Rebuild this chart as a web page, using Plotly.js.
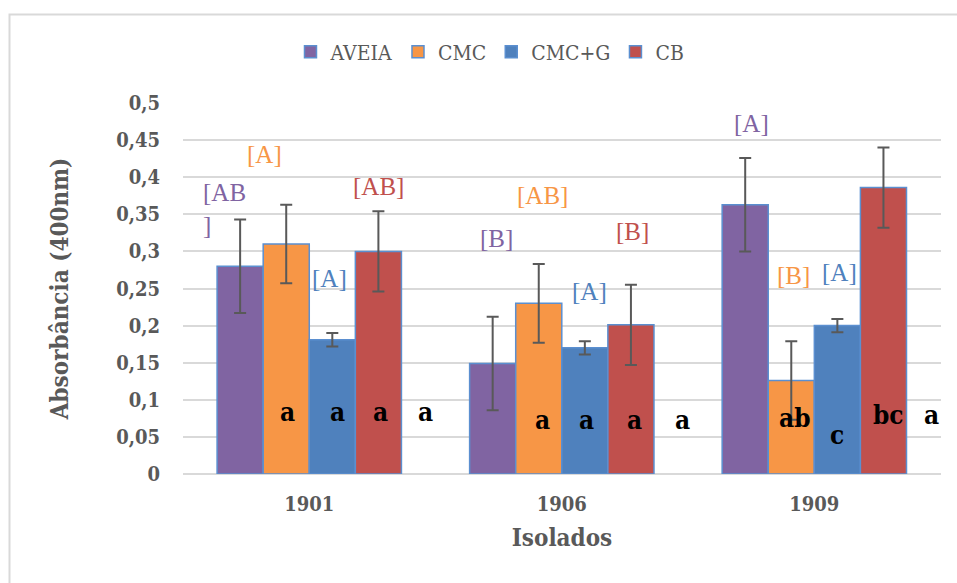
<!DOCTYPE html>
<html>
<head>
<meta charset="utf-8">
<script src="https://cdn.plot.ly/plotly-3.0.1.min.js"></script>
<style>
html,body{margin:0;padding:0;background:#fff;}
#chart{width:957px;height:583px;}
</style>
</head>
<body>
<div id="chart"></div>
<script>
// ---- data ----
const categories = ['1901', '1906', '1909'];
const seriesNames = ['AVEIA', 'CMC', 'CMC+G', 'CB'];
const aveia = [0.280, 0.149, 0.363];
const cmc = [0.310, 0.230, 0.126];
const cmcG = [0.181, 0.170, 0.200];
const cb = [0.300, 0.201, 0.386];
const errAveia = [0.063, 0.063, 0.063];
const errCmc = [0.053, 0.053, 0.053];
const errCmcG = [0.009, 0.009, 0.009];
const errCb = [0.054, 0.054, 0.054];
// group letters (brackets) per series, per category
const lblAveia = ['[AB<br>]', '[B]', '[A]'];
const lblCmc = ['[A]', '[AB]', '[B]'];
const lblCmcG = ['[A]', '[A]', '[A]'];
const lblCb = ['[AB]', '[B]', '[A]'];
// letters inside bars, per category: CMC, CMC+G, CB, extra
const innerLetters = [
  ['a', 'a', 'a', 'a'],
  ['a', 'a', 'a', 'a'],
  ['ab', 'c', 'bc', 'a']
];
const tickVals = [0, 0.05, 0.1, 0.15, 0.2, 0.25, 0.3, 0.35, 0.4, 0.45, 0.5];
const tickText = ['0', '0,05', '0,1', '0,15', '0,2', '0,25', '0,3', '0,35', '0,4', '0,45', '0,5'];

// ---- styles ----
const colors = ['#8064A2', '#F79646', '#4F81BD', '#C0504D'];
const FONT = 'DejaVu Serif Condensed, DejaVu Serif, serif';
const LFONT = 'Liberation Serif, serif';
const vals = [aveia, cmc, cmcG, cb];
const errs = [errAveia, errCmc, errCmcG, errCb];
const lbls = [lblAveia, lblCmc, lblCmcG, lblCb];

const traces = seriesNames.map((n, i) => ({
  type: 'bar', name: n, x: categories, y: vals[i],
  marker: {color: colors[i], line: {color: '#5B8FD0', width: 1.5}},
  error_y: {type: 'data', array: errs[i], visible: true, color: '#595959', thickness: 2, width: 6}
}));

// label placements (style: offsets in category units and y positions)
const bracketPos = [
  [[-0.43, 0.357, 'left'], [-0.178, 0.430], [0.079, 0.264], [0.274, 0.387]],
  [[-0.259, 0.318], [-0.077, 0.375], [0.111, 0.246], [0.279, 0.327]],
  [[-0.249, 0.473], [-0.083, 0.267], [0.099, 0.271], [0.284, 0.501]]
];
const innerPos = [
  [[-0.087, 0.084], [0.111, 0.084], [0.281, 0.084], [0.46, 0.084]],
  [[-0.075, 0.073], [0.099, 0.073], [0.289, 0.073], [0.476, 0.073]],
  [[-0.075, 0.076], [0.091, 0.053], [0.293, 0.080], [0.464, 0.080]]
];
const annotations = [];
categories.forEach((c, ci) => {
  for (let s = 0; s < 4; s++) {
    const p = bracketPos[ci][s];
    const a = {xref: 'x', yref: 'y', x: ci + p[0], y: p[1], text: lbls[s][ci], showarrow: false,
      font: {family: LFONT, size: 25, color: colors[s]}};
    if (p[2] === 'left') { a.xanchor = 'left'; a.align = 'left'; }
    annotations.push(a);
  }
  innerLetters[ci].forEach((t, k) => {
    const p = innerPos[ci][k];
    annotations.push({xref: 'x', yref: 'y', x: ci + p[0], y: p[1], text: '<b>' + t + '</b>', showarrow: false,
      font: {family: FONT, size: 26, color: '#000'}});
  });
});

const layout = {
  width: 957, height: 583,
  margin: {l: 183, r: 16, t: 103, b: 109},
  paper_bgcolor: '#fff', plot_bgcolor: '#fff',
  barmode: 'group', bargap: 0.27, bargroupgap: 0,
  showlegend: true,
  legend: {orientation: 'h', x: 0.405, xanchor: 'center', y: 1.137, yanchor: 'middle',
    font: {family: FONT, size: 21, color: '#595959'}, traceorder: 'normal', itemwidth: 30},
  xaxis: {type: 'category', showgrid: false, zeroline: false, showline: false, ticks: '',
    ticklabelstandoff: 16,
    tickfont: {family: FONT, size: 20, color: '#595959', weight: 'bold'},
    title: {text: '<b>Isolados</b>', standoff: 14, font: {family: FONT, size: 24, color: '#595959'}}},
  yaxis: {range: [0, 0.5], tickvals: tickVals, ticktext: tickText, showgrid: true, gridcolor: '#D9D9D9', gridwidth: 2,
    zeroline: true, zerolinecolor: '#D9D9D9', zerolinewidth: 2, showline: false, ticks: '',
    ticklabelstandoff: 22,
    tickfont: {family: FONT, size: 20, color: '#595959', weight: 'bold'},
    title: {text: '<b>Absorbância (400nm)</b>', standoff: 40, font: {family: FONT, size: 24, color: '#595959'}}},
  annotations: annotations,
  shapes: [{type: 'rect', xref: 'paper', yref: 'paper', x0: (9.5 - 183) / 758, x1: 3, y0: -3, y1: (474 - 14.5) / 371,
    line: {color: '#D9D9D9', width: 2}, fillcolor: 'rgba(0,0,0,0)', layer: 'below'}]
};

Plotly.newPlot('chart', traces, layout, {displayModeBar: false, staticPlot: true});
</script>
</body>
</html>
